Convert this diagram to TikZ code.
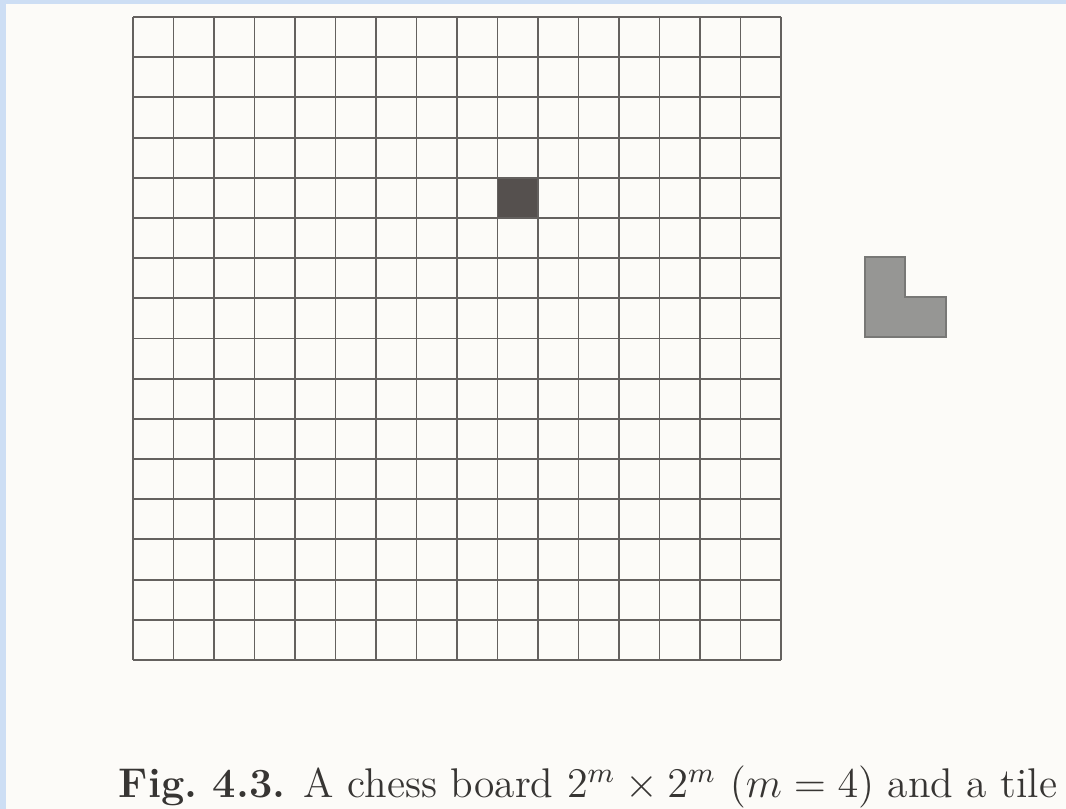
\documentclass[tikz,border=0pt]{standalone}
\definecolor{slide}{RGB}{205,222,244}
\definecolor{paper}{RGB}{252,251,248}
\definecolor{gridline}{RGB}{100,97,95}
\definecolor{hole}{RGB}{85,80,78}
\definecolor{tilegray}{RGB}{150,150,148}
\definecolor{ink}{RGB}{55,53,51}
\begin{document}
\begin{tikzpicture}[x=0.01cm,y=0.01cm]
\useasboundingbox[fill=slide] (0,0) rectangle (1066,809);
\fill[paper] (6,0) rectangle (1066,805);
% the board, 16 x 16 squares of 40.5
\fill[hole] (497.5,631) rectangle (538,591);
\foreach \i in {0,...,16}{
  \draw[gridline,line width=0.55pt] (133+40.5*\i,792)--(133+40.5*\i,149);
  \draw[gridline,line width=0.55pt] (133,792-40.19*\i)--(781,792-40.19*\i);
}
% the tile
\draw[tilegray!80!black,fill=tilegray,line width=0.5pt] (865,552)--(905,552)--(905,512)--(946,512)--(946,472)--(865,472)--cycle;
\node[ink,anchor=base west,inner sep=0pt,font=\fontsize{11.8}{14}\selectfont] (caption) at (118,11)
  {\textbf{Fig.~4.3.} A chess board $2^m\times 2^m$ $(m=4)$ and a tile};
\end{tikzpicture}
\end{document}
